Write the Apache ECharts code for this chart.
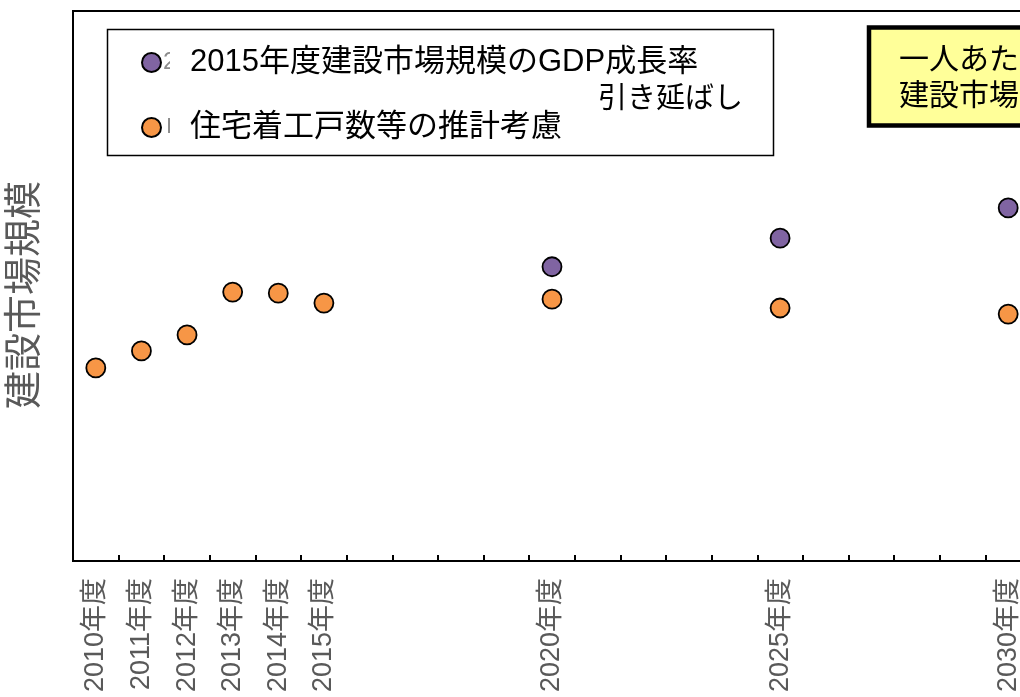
<!DOCTYPE html>
<html>
<head>
<meta charset="utf-8">
<script src="https://cdn.jsdelivr.net/npm/echarts@6/dist/echarts.min.js"></script>
<style>
  html, body { margin: 0; padding: 0; background: #fff; }
  #chart { width: 1020px; height: 697px; }
</style>
</head>
<body>
<div id="chart"></div>
<script>
var categories = ['2010年度', '2011年度', '2012年度', '2013年度', '2014年度', '2015年度',
  '2016年度', '2017年度', '2018年度', '2019年度', '2020年度',
  '2021年度', '2022年度', '2023年度', '2024年度', '2025年度',
  '2026年度', '2027年度', '2028年度', '2029年度', '2030年度'];
var shownLabels = ['2010年度', '2011年度', '2012年度', '2013年度', '2014年度', '2015年度',
  '2020年度', '2025年度', '2030年度'];

// 2015年度建設市場規模のGDP成長率引き延ばし
var gdpTrend = [null, null, null, null, null, null, null, null, null, null, 53.5,
  null, null, null, null, 58.7, null, null, null, null, 64.2];
// 住宅着工戸数等の推計考慮
var housingBased = [35.1, 38.2, 41.1, 48.9, 48.7, 46.9, null, null, null, null, 47.6,
  null, null, null, null, 46.0, null, null, null, null, 44.9];

var seriesNames = ['2015年度建設市場規模のGDP成長率引き延ばし', '住宅着工戸数等の推計考慮'];

var FONT = '"Liberation Sans", "Noto Sans CJK JP", sans-serif';

var chart = echarts.init(document.getElementById('chart'));

var option = {
  animation: false,
  grid: {
    left: 73,
    top: 11,
    width: 958,
    height: 550,
    outerBoundsMode: 'none',
    containLabel: false,
    show: true,
    borderColor: '#000',
    borderWidth: 2,
    backgroundColor: 'transparent'
  },
  legend: {
    orient: 'vertical',
    left: 136,
    top: 39,
    itemWidth: 19,
    itemHeight: 19,
    itemGap: 28,
    selectedMode: false,
    data: seriesNames,
    formatter: function (name) {
      return name === seriesNames[0] ? '2015年度建設市場規模のGDP成長率' : name;
    },
    textStyle: {
      color: '#000',
      fontSize: 31,
      lineHeight: 37,
      fontFamily: FONT,
      padding: [0, 0, 0, 24]
    }
  },
  xAxis: {
    type: 'category',
    data: categories,
    boundaryGap: true,
    axisLine: { lineStyle: { color: '#000', width: 2 } },
    axisTick: { show: true, interval: 0, inside: true, length: 6, lineStyle: { color: '#000', width: 2 } },
    axisLabel: {
      interval: 0,
      rotate: 90,
      margin: 17,
      color: '#595959',
      fontSize: 27,
      fontFamily: FONT,
      formatter: function (val) {
        return shownLabels.indexOf(val) >= 0 ? val : '';
      }
    },
    splitLine: { show: false }
  },
  yAxis: {
    type: 'value',
    min: 0,
    max: 100,
    name: '建設市場規模',
    nameLocation: 'middle',
    nameRotate: 90,
    nameGap: 28,
    nameTextStyle: {
      color: '#595959',
      fontSize: 38,
      fontFamily: FONT,
      padding: [0, 18, 0, 0]
    },
    axisLine: { show: true, lineStyle: { color: '#000', width: 2 } },
    axisTick: { show: false },
    axisLabel: { show: false },
    splitLine: { show: false }
  },
  series: [
    {
      name: seriesNames[0],
      type: 'scatter',
      data: gdpTrend,
      symbolSize: 19,
      itemStyle: { color: '#8064A2', borderColor: '#000', borderWidth: 1.8, opacity: 1 }
    },
    {
      name: seriesNames[1],
      type: 'scatter',
      data: housingBased,
      symbolSize: 19,
      itemStyle: { color: '#F79646', borderColor: '#000', borderWidth: 1.8, opacity: 1 }
    }
  ],
  graphic: [
    {
      type: 'rect',
      shape: { x: 107.5, y: 29.5, width: 666, height: 126 },
      style: { fill: 'transparent', stroke: '#000', lineWidth: 1.5 },
      z: 50
    },
    // partly hidden leftovers of the original legend labels
    {
      type: 'text',
      x: 163,
      y: 62,
      style: { text: '2', fill: '#8c8c8c', fontSize: 24, fontFamily: FONT, verticalAlign: 'middle' },
      z: 49
    },
    {
      type: 'text',
      x: 166,
      y: 127,
      style: { text: 'I', fill: '#8c8c8c', fontSize: 22, fontFamily: FONT, verticalAlign: 'middle' },
      z: 49
    },
    {
      type: 'rect',
      shape: { x: 170, y: 40, width: 16, height: 105 },
      style: { fill: '#fff' },
      z: 50
    },
    {
      type: 'text',
      x: 598,
      y: 100,
      style: {
        text: '引き延ばし',
        fill: '#000',
        fontSize: 29,
        fontFamily: FONT,
        verticalAlign: 'middle'
      },
      z: 50
    },
    {
      type: 'rect',
      shape: { x: 869, y: 27.5, width: 200, height: 98 },
      style: { fill: '#FFFF99', stroke: '#000', lineWidth: 4.5 },
      z: 50
    },
    {
      type: 'text',
      x: 899,
      y: 79,
      style: {
        text: '一人あたり\n建設市場規模',
        fill: '#000',
        fontSize: 30,
        lineHeight: 36,
        fontFamily: FONT,
        verticalAlign: 'middle'
      },
      z: 51
    }
  ]
};

chart.setOption(option);
</script>
</body>
</html>
